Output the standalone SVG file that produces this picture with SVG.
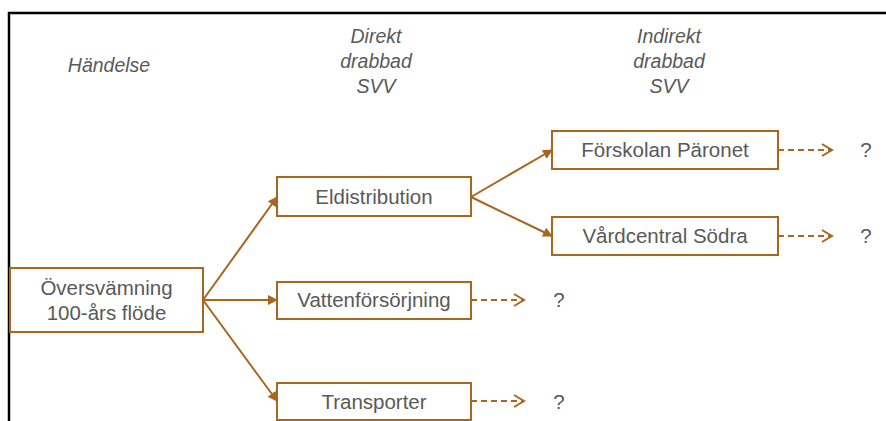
<svg xmlns="http://www.w3.org/2000/svg" width="886" height="421" viewBox="0 0 886 421">
<style>
.box{fill:#fff;stroke:#A8661F;stroke-width:2}
.t{font-family:"Liberation Sans",Arial,sans-serif;font-size:20.5px;fill:#595959;text-anchor:middle}
.h{font-family:"Liberation Sans",Arial,sans-serif;font-size:19.5px;fill:#595959;text-anchor:middle;font-style:italic}
.c{stroke:#A8661F;stroke-width:2;fill:none}
.d{stroke:#A8661F;stroke-width:2;fill:none;stroke-dasharray:6,4}
</style>
<defs>
<marker id="ah" markerWidth="10" markerHeight="10" refX="9" refY="5" orient="auto" markerUnits="userSpaceOnUse" viewBox="0 0 10 10">
<path d="M0,0 L10,5 L0,10 Z" fill="#A8661F"/>
</marker>
<marker id="oh" markerWidth="14" markerHeight="14" refX="12" refY="7" orient="auto" markerUnits="userSpaceOnUse" viewBox="0 0 14 14">
<path d="M2,1 L12,7 L2,13" fill="none" stroke="#A8661F" stroke-width="2"/>
</marker>
</defs>
<rect width="886" height="421" fill="#fff"/>
<path d="M9,421 V13 H886" fill="none" stroke="#000" stroke-width="2.5"/>
<path d="M10,14.5 H886" stroke="#bbb" stroke-width="1"/>
<g id="headers">
<text class="h" x="109" y="72">Händelse</text>
<text class="h" x="376" y="43">Direkt</text>
<text class="h" x="376" y="68">drabbad</text>
<text class="h" x="376" y="93">SVV</text>
<text class="h" x="669" y="43">Indirekt</text>
<text class="h" x="669" y="68">drabbad</text>
<text class="h" x="669" y="93">SVV</text>
</g>
<g id="connectors">
<line class="c" x1="203" y1="300" x2="277" y2="197" marker-end="url(#ah)"/>
<line class="c" x1="203" y1="300" x2="277" y2="300" marker-end="url(#ah)"/>
<line class="c" x1="203" y1="300" x2="277" y2="401" marker-end="url(#ah)"/>
<line class="c" x1="471" y1="197" x2="552" y2="150" marker-end="url(#ah)"/>
<line class="c" x1="471" y1="197" x2="552" y2="236" marker-end="url(#ah)"/>
<line class="d" x1="778" y1="150" x2="832" y2="150" marker-end="url(#oh)"/>
<line class="d" x1="778" y1="236" x2="832" y2="236" marker-end="url(#oh)"/>
<line class="d" x1="471" y1="300" x2="524" y2="300" marker-end="url(#oh)"/>
<line class="d" x1="471" y1="401" x2="524" y2="401" marker-end="url(#oh)"/>
</g>
<g id="n-oversvamning">
<rect class="box" x="10" y="268" width="193" height="64"/>
<text class="t" x="106.5" y="295">Översvämning</text>
<text class="t" x="106.5" y="320">100-års flöde</text>
</g>
<g id="n-eldistribution">
<rect class="box" x="277" y="177" width="194" height="39"/>
<text class="t" x="374" y="204">Eldistribution</text>
</g>
<g id="n-vatten">
<rect class="box" x="277" y="282" width="194" height="37"/>
<text class="t" x="374" y="307">Vattenförsörjning</text>
</g>
<g id="n-transporter">
<rect class="box" x="277" y="383" width="194" height="37"/>
<text class="t" x="374" y="409">Transporter</text>
</g>
<g id="n-forskolan">
<rect class="box" x="552" y="131" width="226" height="38"/>
<text class="t" x="665" y="157">Förskolan Päronet</text>
</g>
<g id="n-vardcentral">
<rect class="box" x="552" y="217" width="226" height="38"/>
<text class="t" x="665" y="243">Vårdcentral Södra</text>
</g>
<g id="q">
<text class="t" x="866" y="157">?</text>
<text class="t" x="866" y="243">?</text>
<text class="t" x="559" y="307">?</text>
<text class="t" x="559" y="409">?</text>
</g>
</svg>
